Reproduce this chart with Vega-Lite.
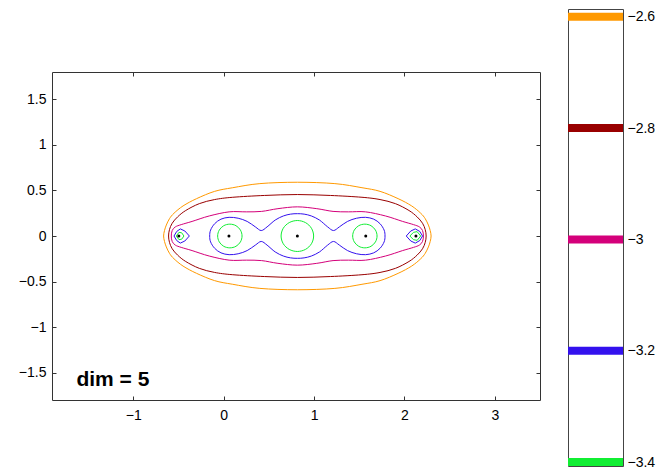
{
  "$schema": "https://vega.github.io/schema/vega-lite/v6.json",
  "padding": {"left": 17, "top": 8, "right": 0, "bottom": 0},
  "background": "white",
  "config": {
    "font": "Liberation Sans",
    "view": {"stroke": "#333333", "strokeWidth": 1},
    "axis": {"grid": false, "domain": false, "title": null, "labelFont": "Liberation Sans", "labelFontSize": 14, "labelColor": "black", "tickColor": "#333333", "tickSize": -4, "format": ".1~f"}
  },
  "datasets": {
    "contours": [
      {"id":"A","lv":-2.6,"o":1,"x":-0.665,"y":0},
      {"id":"A","lv":-2.6,"o":2,"x":-0.655,"y":0.06},
      {"id":"A","lv":-2.6,"o":3,"x":-0.635,"y":0.12},
      {"id":"A","lv":-2.6,"o":4,"x":-0.6,"y":0.19},
      {"id":"A","lv":-2.6,"o":5,"x":-0.55,"y":0.25},
      {"id":"A","lv":-2.6,"o":6,"x":-0.45,"y":0.33},
      {"id":"A","lv":-2.6,"o":7,"x":-0.3,"y":0.41},
      {"id":"A","lv":-2.6,"o":8,"x":-0.1,"y":0.49},
      {"id":"A","lv":-2.6,"o":9,"x":0.1,"y":0.53},
      {"id":"A","lv":-2.6,"o":10,"x":0.4,"y":0.575},
      {"id":"A","lv":-2.6,"o":11,"x":0.815,"y":0.59},
      {"id":"A","lv":-2.6,"o":12,"x":1.23,"y":0.575},
      {"id":"A","lv":-2.6,"o":13,"x":1.53,"y":0.53},
      {"id":"A","lv":-2.6,"o":14,"x":1.73,"y":0.49},
      {"id":"A","lv":-2.6,"o":15,"x":1.93,"y":0.41},
      {"id":"A","lv":-2.6,"o":16,"x":2.08,"y":0.33},
      {"id":"A","lv":-2.6,"o":17,"x":2.18,"y":0.25},
      {"id":"A","lv":-2.6,"o":18,"x":2.23,"y":0.19},
      {"id":"A","lv":-2.6,"o":19,"x":2.265,"y":0.12},
      {"id":"A","lv":-2.6,"o":20,"x":2.285,"y":0.06},
      {"id":"A","lv":-2.6,"o":21,"x":2.295,"y":0},
      {"id":"A","lv":-2.6,"o":22,"x":2.285,"y":-0.06},
      {"id":"A","lv":-2.6,"o":23,"x":2.265,"y":-0.12},
      {"id":"A","lv":-2.6,"o":24,"x":2.23,"y":-0.19},
      {"id":"A","lv":-2.6,"o":25,"x":2.18,"y":-0.25},
      {"id":"A","lv":-2.6,"o":26,"x":2.08,"y":-0.33},
      {"id":"A","lv":-2.6,"o":27,"x":1.93,"y":-0.41},
      {"id":"A","lv":-2.6,"o":28,"x":1.73,"y":-0.49},
      {"id":"A","lv":-2.6,"o":29,"x":1.53,"y":-0.53},
      {"id":"A","lv":-2.6,"o":30,"x":1.23,"y":-0.575},
      {"id":"A","lv":-2.6,"o":31,"x":0.815,"y":-0.59},
      {"id":"A","lv":-2.6,"o":32,"x":0.4,"y":-0.575},
      {"id":"A","lv":-2.6,"o":33,"x":0.1,"y":-0.53},
      {"id":"A","lv":-2.6,"o":34,"x":-0.1,"y":-0.49},
      {"id":"A","lv":-2.6,"o":35,"x":-0.3,"y":-0.41},
      {"id":"A","lv":-2.6,"o":36,"x":-0.45,"y":-0.33},
      {"id":"A","lv":-2.6,"o":37,"x":-0.55,"y":-0.25},
      {"id":"A","lv":-2.6,"o":38,"x":-0.6,"y":-0.19},
      {"id":"A","lv":-2.6,"o":39,"x":-0.635,"y":-0.12},
      {"id":"A","lv":-2.6,"o":40,"x":-0.655,"y":-0.06},

      {"id":"B","lv":-2.8,"o":1,"x":-0.61,"y":0},
      {"id":"B","lv":-2.8,"o":2,"x":-0.6,"y":0.07},
      {"id":"B","lv":-2.8,"o":3,"x":-0.57,"y":0.14},
      {"id":"B","lv":-2.8,"o":4,"x":-0.51,"y":0.21},
      {"id":"B","lv":-2.8,"o":5,"x":-0.42,"y":0.28},
      {"id":"B","lv":-2.8,"o":6,"x":-0.27,"y":0.355},
      {"id":"B","lv":-2.8,"o":7,"x":-0.1,"y":0.4},
      {"id":"B","lv":-2.8,"o":8,"x":0.1,"y":0.425},
      {"id":"B","lv":-2.8,"o":9,"x":0.45,"y":0.445},
      {"id":"B","lv":-2.8,"o":10,"x":0.815,"y":0.455},
      {"id":"B","lv":-2.8,"o":11,"x":1.18,"y":0.445},
      {"id":"B","lv":-2.8,"o":12,"x":1.53,"y":0.425},
      {"id":"B","lv":-2.8,"o":13,"x":1.73,"y":0.4},
      {"id":"B","lv":-2.8,"o":14,"x":1.9,"y":0.355},
      {"id":"B","lv":-2.8,"o":15,"x":2.05,"y":0.28},
      {"id":"B","lv":-2.8,"o":16,"x":2.14,"y":0.21},
      {"id":"B","lv":-2.8,"o":17,"x":2.2,"y":0.14},
      {"id":"B","lv":-2.8,"o":18,"x":2.23,"y":0.07},
      {"id":"B","lv":-2.8,"o":19,"x":2.24,"y":0},
      {"id":"B","lv":-2.8,"o":20,"x":2.23,"y":-0.07},
      {"id":"B","lv":-2.8,"o":21,"x":2.2,"y":-0.14},
      {"id":"B","lv":-2.8,"o":22,"x":2.14,"y":-0.21},
      {"id":"B","lv":-2.8,"o":23,"x":2.05,"y":-0.28},
      {"id":"B","lv":-2.8,"o":24,"x":1.9,"y":-0.355},
      {"id":"B","lv":-2.8,"o":25,"x":1.73,"y":-0.4},
      {"id":"B","lv":-2.8,"o":26,"x":1.53,"y":-0.425},
      {"id":"B","lv":-2.8,"o":27,"x":1.18,"y":-0.445},
      {"id":"B","lv":-2.8,"o":28,"x":0.815,"y":-0.455},
      {"id":"B","lv":-2.8,"o":29,"x":0.45,"y":-0.445},
      {"id":"B","lv":-2.8,"o":30,"x":0.1,"y":-0.425},
      {"id":"B","lv":-2.8,"o":31,"x":-0.1,"y":-0.4},
      {"id":"B","lv":-2.8,"o":32,"x":-0.27,"y":-0.355},
      {"id":"B","lv":-2.8,"o":33,"x":-0.42,"y":-0.28},
      {"id":"B","lv":-2.8,"o":34,"x":-0.51,"y":-0.21},
      {"id":"B","lv":-2.8,"o":35,"x":-0.57,"y":-0.14},
      {"id":"B","lv":-2.8,"o":36,"x":-0.6,"y":-0.07},

      {"id":"C","lv":-3,"o":1,"x":-0.58,"y":0},
      {"id":"C","lv":-3,"o":2,"x":-0.57,"y":0.06},
      {"id":"C","lv":-3,"o":3,"x":-0.535,"y":0.1},
      {"id":"C","lv":-3,"o":4,"x":-0.47,"y":0.125},
      {"id":"C","lv":-3,"o":5,"x":-0.35,"y":0.16},
      {"id":"C","lv":-3,"o":6,"x":-0.16,"y":0.22},
      {"id":"C","lv":-3,"o":7,"x":0.06,"y":0.265},
      {"id":"C","lv":-3,"o":8,"x":0.25,"y":0.265},
      {"id":"C","lv":-3,"o":9,"x":0.42,"y":0.27},
      {"id":"C","lv":-3,"o":10,"x":0.6,"y":0.3},
      {"id":"C","lv":-3,"o":11,"x":0.815,"y":0.32},
      {"id":"C","lv":-3,"o":12,"x":1.03,"y":0.3},
      {"id":"C","lv":-3,"o":13,"x":1.21,"y":0.27},
      {"id":"C","lv":-3,"o":14,"x":1.38,"y":0.265},
      {"id":"C","lv":-3,"o":15,"x":1.57,"y":0.265},
      {"id":"C","lv":-3,"o":16,"x":1.79,"y":0.22},
      {"id":"C","lv":-3,"o":17,"x":1.98,"y":0.16},
      {"id":"C","lv":-3,"o":18,"x":2.1,"y":0.125},
      {"id":"C","lv":-3,"o":19,"x":2.165,"y":0.1},
      {"id":"C","lv":-3,"o":20,"x":2.2,"y":0.06},
      {"id":"C","lv":-3,"o":21,"x":2.21,"y":0},
      {"id":"C","lv":-3,"o":22,"x":2.2,"y":-0.06},
      {"id":"C","lv":-3,"o":23,"x":2.165,"y":-0.1},
      {"id":"C","lv":-3,"o":24,"x":2.1,"y":-0.125},
      {"id":"C","lv":-3,"o":25,"x":1.98,"y":-0.16},
      {"id":"C","lv":-3,"o":26,"x":1.79,"y":-0.22},
      {"id":"C","lv":-3,"o":27,"x":1.57,"y":-0.265},
      {"id":"C","lv":-3,"o":28,"x":1.38,"y":-0.265},
      {"id":"C","lv":-3,"o":29,"x":1.21,"y":-0.27},
      {"id":"C","lv":-3,"o":30,"x":1.03,"y":-0.3},
      {"id":"C","lv":-3,"o":31,"x":0.815,"y":-0.32},
      {"id":"C","lv":-3,"o":32,"x":0.6,"y":-0.3},
      {"id":"C","lv":-3,"o":33,"x":0.42,"y":-0.27},
      {"id":"C","lv":-3,"o":34,"x":0.25,"y":-0.265},
      {"id":"C","lv":-3,"o":35,"x":0.06,"y":-0.265},
      {"id":"C","lv":-3,"o":36,"x":-0.16,"y":-0.22},
      {"id":"C","lv":-3,"o":37,"x":-0.35,"y":-0.16},
      {"id":"C","lv":-3,"o":38,"x":-0.47,"y":-0.125},
      {"id":"C","lv":-3,"o":39,"x":-0.535,"y":-0.1},
      {"id":"C","lv":-3,"o":40,"x":-0.57,"y":-0.06},

      {"id":"D","lv":-3.2,"o":1,"x":-0.155,"y":0},
      {"id":"D","lv":-3.2,"o":2,"x":-0.145,"y":0.065},
      {"id":"D","lv":-3.2,"o":3,"x":-0.1,"y":0.135},
      {"id":"D","lv":-3.2,"o":4,"x":-0.03,"y":0.185},
      {"id":"D","lv":-3.2,"o":5,"x":0.06,"y":0.205},
      {"id":"D","lv":-3.2,"o":6,"x":0.16,"y":0.195},
      {"id":"D","lv":-3.2,"o":7,"x":0.26,"y":0.16},
      {"id":"D","lv":-3.2,"o":8,"x":0.35,"y":0.1},
      {"id":"D","lv":-3.2,"o":9,"x":0.415,"y":0.06},
      {"id":"D","lv":-3.2,"o":10,"x":0.48,"y":0.1},
      {"id":"D","lv":-3.2,"o":11,"x":0.57,"y":0.175},
      {"id":"D","lv":-3.2,"o":12,"x":0.66,"y":0.22},
      {"id":"D","lv":-3.2,"o":13,"x":0.74,"y":0.24},
      {"id":"D","lv":-3.2,"o":14,"x":0.815,"y":0.245},
      {"id":"D","lv":-3.2,"o":15,"x":0.89,"y":0.24},
      {"id":"D","lv":-3.2,"o":16,"x":0.97,"y":0.22},
      {"id":"D","lv":-3.2,"o":17,"x":1.06,"y":0.175},
      {"id":"D","lv":-3.2,"o":18,"x":1.15,"y":0.1},
      {"id":"D","lv":-3.2,"o":19,"x":1.215,"y":0.06},
      {"id":"D","lv":-3.2,"o":20,"x":1.28,"y":0.1},
      {"id":"D","lv":-3.2,"o":21,"x":1.37,"y":0.16},
      {"id":"D","lv":-3.2,"o":22,"x":1.47,"y":0.195},
      {"id":"D","lv":-3.2,"o":23,"x":1.57,"y":0.205},
      {"id":"D","lv":-3.2,"o":24,"x":1.66,"y":0.185},
      {"id":"D","lv":-3.2,"o":25,"x":1.73,"y":0.135},
      {"id":"D","lv":-3.2,"o":26,"x":1.775,"y":0.065},
      {"id":"D","lv":-3.2,"o":27,"x":1.785,"y":0},
      {"id":"D","lv":-3.2,"o":28,"x":1.775,"y":-0.065},
      {"id":"D","lv":-3.2,"o":29,"x":1.73,"y":-0.135},
      {"id":"D","lv":-3.2,"o":30,"x":1.66,"y":-0.185},
      {"id":"D","lv":-3.2,"o":31,"x":1.57,"y":-0.205},
      {"id":"D","lv":-3.2,"o":32,"x":1.47,"y":-0.195},
      {"id":"D","lv":-3.2,"o":33,"x":1.37,"y":-0.16},
      {"id":"D","lv":-3.2,"o":34,"x":1.28,"y":-0.1},
      {"id":"D","lv":-3.2,"o":35,"x":1.215,"y":-0.06},
      {"id":"D","lv":-3.2,"o":36,"x":1.15,"y":-0.1},
      {"id":"D","lv":-3.2,"o":37,"x":1.06,"y":-0.175},
      {"id":"D","lv":-3.2,"o":38,"x":0.97,"y":-0.22},
      {"id":"D","lv":-3.2,"o":39,"x":0.89,"y":-0.24},
      {"id":"D","lv":-3.2,"o":40,"x":0.815,"y":-0.245},
      {"id":"D","lv":-3.2,"o":41,"x":0.74,"y":-0.24},
      {"id":"D","lv":-3.2,"o":42,"x":0.66,"y":-0.22},
      {"id":"D","lv":-3.2,"o":43,"x":0.57,"y":-0.175},
      {"id":"D","lv":-3.2,"o":44,"x":0.48,"y":-0.1},
      {"id":"D","lv":-3.2,"o":45,"x":0.415,"y":-0.06},
      {"id":"D","lv":-3.2,"o":46,"x":0.35,"y":-0.1},
      {"id":"D","lv":-3.2,"o":47,"x":0.26,"y":-0.16},
      {"id":"D","lv":-3.2,"o":48,"x":0.16,"y":-0.195},
      {"id":"D","lv":-3.2,"o":49,"x":0.06,"y":-0.205},
      {"id":"D","lv":-3.2,"o":50,"x":-0.03,"y":-0.185},
      {"id":"D","lv":-3.2,"o":51,"x":-0.1,"y":-0.135},
      {"id":"D","lv":-3.2,"o":52,"x":-0.145,"y":-0.065},

      {"id":"E","lv":-3.4,"o":1,"x":0.203,"y":0},
      {"id":"E","lv":-3.4,"o":2,"x":0.185,"y":0.065},
      {"id":"E","lv":-3.4,"o":3,"x":0.136,"y":0.113},
      {"id":"E","lv":-3.4,"o":4,"x":0.068,"y":0.13},
      {"id":"E","lv":-3.4,"o":5,"x":0.0,"y":0.113},
      {"id":"E","lv":-3.4,"o":6,"x":-0.049,"y":0.065},
      {"id":"E","lv":-3.4,"o":7,"x":-0.067,"y":0},
      {"id":"E","lv":-3.4,"o":8,"x":-0.049,"y":-0.065},
      {"id":"E","lv":-3.4,"o":9,"x":0.0,"y":-0.113},
      {"id":"E","lv":-3.4,"o":10,"x":0.068,"y":-0.13},
      {"id":"E","lv":-3.4,"o":11,"x":0.136,"y":-0.113},
      {"id":"E","lv":-3.4,"o":12,"x":0.185,"y":-0.065},

      {"id":"F","lv":-3.4,"o":1,"x":0.995,"y":0},
      {"id":"F","lv":-3.4,"o":2,"x":0.971,"y":0.085},
      {"id":"F","lv":-3.4,"o":3,"x":0.905,"y":0.147},
      {"id":"F","lv":-3.4,"o":4,"x":0.815,"y":0.17},
      {"id":"F","lv":-3.4,"o":5,"x":0.725,"y":0.147},
      {"id":"F","lv":-3.4,"o":6,"x":0.659,"y":0.085},
      {"id":"F","lv":-3.4,"o":7,"x":0.635,"y":0},
      {"id":"F","lv":-3.4,"o":8,"x":0.659,"y":-0.085},
      {"id":"F","lv":-3.4,"o":9,"x":0.725,"y":-0.147},
      {"id":"F","lv":-3.4,"o":10,"x":0.815,"y":-0.17},
      {"id":"F","lv":-3.4,"o":11,"x":0.905,"y":-0.147},
      {"id":"F","lv":-3.4,"o":12,"x":0.971,"y":-0.085},

      {"id":"G","lv":-3.4,"o":1,"x":1.697,"y":0},
      {"id":"G","lv":-3.4,"o":2,"x":1.679,"y":0.065},
      {"id":"G","lv":-3.4,"o":3,"x":1.63,"y":0.113},
      {"id":"G","lv":-3.4,"o":4,"x":1.562,"y":0.13},
      {"id":"G","lv":-3.4,"o":5,"x":1.494,"y":0.113},
      {"id":"G","lv":-3.4,"o":6,"x":1.445,"y":0.065},
      {"id":"G","lv":-3.4,"o":7,"x":1.427,"y":0},
      {"id":"G","lv":-3.4,"o":8,"x":1.445,"y":-0.065},
      {"id":"G","lv":-3.4,"o":9,"x":1.494,"y":-0.113},
      {"id":"G","lv":-3.4,"o":10,"x":1.562,"y":-0.13},
      {"id":"G","lv":-3.4,"o":11,"x":1.63,"y":-0.113},
      {"id":"G","lv":-3.4,"o":12,"x":1.679,"y":-0.065}
    ],
    "ends": [
      {"id":"H","lv":-3.2,"o":1,"x":-0.55,"y":0},
      {"id":"H","lv":-3.2,"o":2,"x":-0.52,"y":0.05},
      {"id":"H","lv":-3.2,"o":3,"x":-0.48,"y":0.078},
      {"id":"H","lv":-3.2,"o":4,"x":-0.43,"y":0.055},
      {"id":"H","lv":-3.2,"o":5,"x":-0.38,"y":0},
      {"id":"H","lv":-3.2,"o":6,"x":-0.43,"y":-0.055},
      {"id":"H","lv":-3.2,"o":7,"x":-0.48,"y":-0.078},
      {"id":"H","lv":-3.2,"o":8,"x":-0.52,"y":-0.05},
      {"id":"I","lv":-3.2,"o":1,"x":2.2,"y":0},
      {"id":"I","lv":-3.2,"o":2,"x":2.17,"y":0.05},
      {"id":"I","lv":-3.2,"o":3,"x":2.12,"y":0.078},
      {"id":"I","lv":-3.2,"o":4,"x":2.07,"y":0.055},
      {"id":"I","lv":-3.2,"o":5,"x":2.02,"y":0},
      {"id":"I","lv":-3.2,"o":6,"x":2.07,"y":-0.055},
      {"id":"I","lv":-3.2,"o":7,"x":2.12,"y":-0.078},
      {"id":"I","lv":-3.2,"o":8,"x":2.17,"y":-0.05},
      {"id":"J","lv":-3.4,"o":1,"x":-0.525,"y":0},
      {"id":"J","lv":-3.4,"o":2,"x":-0.495,"y":0.04},
      {"id":"J","lv":-3.4,"o":3,"x":-0.465,"y":0.035},
      {"id":"J","lv":-3.4,"o":4,"x":-0.44,"y":0},
      {"id":"J","lv":-3.4,"o":5,"x":-0.465,"y":-0.035},
      {"id":"J","lv":-3.4,"o":6,"x":-0.495,"y":-0.04},
      {"id":"K","lv":-3.4,"o":1,"x":2.18,"y":0},
      {"id":"K","lv":-3.4,"o":2,"x":2.14,"y":0.048},
      {"id":"K","lv":-3.4,"o":3,"x":2.1,"y":0.04},
      {"id":"K","lv":-3.4,"o":4,"x":2.06,"y":0},
      {"id":"K","lv":-3.4,"o":5,"x":2.1,"y":-0.04},
      {"id":"K","lv":-3.4,"o":6,"x":2.14,"y":-0.048}
    ],
    "dots": [
      {"x":-0.497,"y":0},
      {"x":0.058,"y":0},
      {"x":0.815,"y":0},
      {"x":1.572,"y":0},
      {"x":2.127,"y":0}
    ],
    "label": [{"x":-1.63,"y":-1.575,"t":"dim = 5"}],
    "bar": [{"lv":-2.6},{"lv":-2.8},{"lv":-3},{"lv":-3.2},{"lv":-3.4}]
  },
  "hconcat": [
    {
      "spacing": 0,
      "vconcat": [
        {
          "width": 10,
          "height": 62,
          "data": {"values": [{"t": ""}]},
          "mark": {"type": "text", "text": ""},
          "encoding": {},
          "view": {"stroke": null, "fill": "white"}
        },
        {
          "width": 488,
          "height": 328,
          "layer": [
            {
              "data": {"name": "contours"},
              "mark": {"type": "line", "interpolate": "cardinal-closed", "strokeWidth": 1},
              "encoding": {
                "x": {"field": "x", "type": "quantitative", "scale": {"domain": [-1.9, 3.5], "nice": false, "zero": false},
                      "axis": {"orient": "bottom", "values": [-1, 0, 1, 2, 3], "labelPadding": 12}},
                "y": {"field": "y", "type": "quantitative", "scale": {"domain": [-1.8, 1.8], "nice": false, "zero": false},
                      "axis": {"orient": "left", "values": [-1.5, -1, -0.5, 0, 0.5, 1, 1.5], "labelPadding": 10}},
                "detail": {"field": "id"},
                "order": {"field": "o", "type": "quantitative"},
                "color": {"field": "lv", "type": "ordinal",
                          "scale": {"domain": [-3.4, -3.2, -3, -2.8, -2.6], "range": ["#11EE33", "#3311EE", "#D4007A", "#990000", "#FF9900"]},
                          "legend": null}
              }
            },
            {
              "data": {"name": "ends"},
              "mark": {"type": "line", "interpolate": "linear-closed", "strokeWidth": 1},
              "encoding": {
                "x": {"field": "x", "type": "quantitative", "axis": null},
                "y": {"field": "y", "type": "quantitative", "axis": null},
                "detail": {"field": "id"},
                "order": {"field": "o", "type": "quantitative"},
                "color": {"field": "lv", "type": "ordinal", "legend": null}
              }
            },
            {
              "data": {"name": "dots"},
              "mark": {"type": "point", "filled": true, "color": "black", "size": 9, "opacity": 1},
              "encoding": {
                "x": {"field": "x", "type": "quantitative", "axis": null},
                "y": {"field": "y", "type": "quantitative", "axis": null}
              }
            },
            {
              "data": {"name": "label"},
              "mark": {"type": "text", "align": "left", "baseline": "middle", "fontWeight": "bold", "fontSize": 21, "font": "Liberation Sans", "color": "black"},
              "encoding": {
                "x": {"field": "x", "type": "quantitative", "axis": null},
                "y": {"field": "y", "type": "quantitative", "axis": null},
                "text": {"field": "t"}
              }
            },
            {
              "data": {"name": "dots"},
              "mark": {"type": "point", "opacity": 0},
              "encoding": {
                "x": {"field": "x", "type": "quantitative", "axis": {"orient": "top", "values": [-1, 0, 1, 2, 3], "labels": false}},
                "y": {"field": "y", "type": "quantitative", "axis": {"orient": "right", "values": [-1.5, -1, -0.5, 0, 0.5, 1, 1.5], "labels": false}}
              }
            }
          ]
        }
      ]
    },
    {
      "width": 55,
      "height": 457,
      "view": {"stroke": "#444444"},
      "data": {"name": "bar"},
      "mark": {"type": "rule", "strokeWidth": 8},
      "encoding": {
        "y": {"field": "lv", "type": "quantitative", "scale": {"domain": [-3.407, -2.586], "nice": false, "zero": false},
              "axis": {"orient": "right", "values": [-3.4, -3.2, -3, -2.8, -2.6], "ticks": false, "labelPadding": 4, "labelFontSize": 14}},
        "color": {"field": "lv", "type": "ordinal", "legend": null}
      }
    }
  ],
  "spacing": 22
}
